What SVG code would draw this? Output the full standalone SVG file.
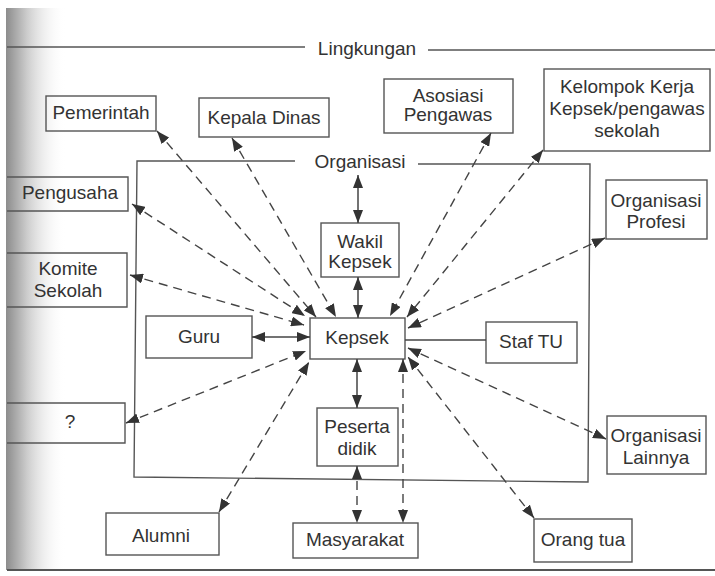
<svg xmlns="http://www.w3.org/2000/svg" width="715" height="576" viewBox="0 0 715 576">
<defs>
<linearGradient id="shade" x1="0" y1="0" x2="1" y2="0">
<stop offset="0" stop-color="#8c8c8c"/>
<stop offset="0.35" stop-color="#cccccc"/>
<stop offset="1" stop-color="#ffffff" stop-opacity="0"/>
</linearGradient>
<marker id="ah" viewBox="0 0 13 10" refX="13" refY="5" markerWidth="13" markerHeight="10" markerUnits="userSpaceOnUse" orient="auto-start-reverse">
<path d="M0,0 L13,5 L0,10 z" fill="#333"/>
</marker>
</defs>
<style>
.box{fill:none;stroke:#555;stroke-width:1.4}
.t{font-family:"Liberation Sans",Arial,sans-serif;font-size:19px;fill:#333;text-anchor:middle}
.frame{fill:none;stroke:#555;stroke-width:1.4}
.s{stroke:#444;stroke-width:1.5;fill:none}
.d{stroke:#444;stroke-width:1.4;fill:none;stroke-dasharray:9 6}
.a{marker-start:url(#ah);marker-end:url(#ah)}
</style>
<rect x="0" y="0" width="715" height="576" fill="#ffffff"/>
<rect x="6" y="8" width="60" height="562" fill="url(#shade)"/>

<g id="frames">
<line x1="7" y1="47" x2="305" y2="47" class="frame"/>
<line x1="428" y1="50" x2="715" y2="50" class="frame"/>
<line x1="7" y1="570" x2="715" y2="570" stroke="#555" stroke-width="2"/>
<text class="t" x="367" y="55">Lingkungan</text>
<path class="frame" d="M295,161 L137,161 L134,477 L588,482 L590,164 L418,164"/>
<text class="t" x="360" y="168">Organisasi</text>
</g>

<g id="pemerintah"><rect class="box" x="46" y="96" width="110" height="35"/><text class="t" x="101" y="119">Pemerintah</text></g>
<g id="kepala-dinas"><rect class="box" x="199" y="98" width="130" height="39"/><text class="t" x="264" y="124">Kepala Dinas</text></g>
<g id="asosiasi"><rect class="box" x="384" y="79" width="129" height="54"/><text class="t" x="448" y="102">Asosiasi</text><text class="t" x="448" y="121">Pengawas</text></g>
<g id="kelompok"><rect class="box" x="544" y="69" width="166" height="82"/><text class="t" x="627" y="93">Kelompok Kerja</text><text class="t" x="627" y="115">Kepsek/pengawas</text><text class="t" x="627" y="137">sekolah</text></g>
<g id="pengusaha"><path class="box" d="M7,177 H128 V211 H7"/><text class="t" x="70" y="199">Pengusaha</text></g>
<g id="komite"><path class="box" d="M7,253 H127 V307 H7"/><text class="t" x="68" y="275">Komite</text><text class="t" x="68" y="297">Sekolah</text></g>
<g id="tanya"><path class="box" d="M7,403 H125 V443 H7"/><text class="t" x="70" y="428">?</text></g>
<g id="wakil"><rect class="box" x="321" y="223" width="78" height="54"/><text class="t" x="360" y="248">Wakil</text><text class="t" x="360" y="268">Kepsek</text></g>
<g id="guru"><rect class="box" x="146" y="316" width="106" height="42"/><text class="t" x="199" y="343">Guru</text></g>
<g id="kepsek"><rect class="box" x="310" y="318" width="95" height="41"/><text class="t" x="357" y="344">Kepsek</text></g>
<g id="staf-tu"><rect class="box" x="486" y="322" width="91" height="41"/><text class="t" x="531" y="348">Staf TU</text></g>
<g id="org-profesi"><rect class="box" x="606" y="180" width="101" height="59"/><text class="t" x="656" y="207">Organisasi</text><text class="t" x="656" y="228">Profesi</text></g>
<g id="peserta"><rect class="box" x="317" y="408" width="81" height="58"/><text class="t" x="357" y="433">Peserta</text><text class="t" x="357" y="455">didik</text></g>
<g id="org-lainnya"><rect class="box" x="607" y="416" width="99" height="58"/><text class="t" x="656" y="442">Organisasi</text><text class="t" x="656" y="464">Lainnya</text></g>
<g id="alumni"><rect class="box" x="106" y="513" width="113" height="42"/><text class="t" x="161" y="542">Alumni</text></g>
<g id="masyarakat"><rect class="box" x="293" y="523" width="125" height="35"/><text class="t" x="355" y="546">Masyarakat</text></g>
<g id="orang-tua"><rect class="box" x="534" y="519" width="98" height="43"/><text class="t" x="583" y="546">Orang tua</text></g>

<g id="connectors">
<line class="s a" x1="358" y1="175" x2="358" y2="223"/>
<line class="s a" x1="358" y1="277" x2="358" y2="318"/>
<line class="s a" x1="357" y1="359" x2="357" y2="408"/>
<line class="d a" x1="357" y1="466" x2="357" y2="523"/>
<line class="d a" x1="403" y1="359" x2="403" y2="523"/>
<line class="s a" x1="252" y1="337" x2="310" y2="337"/>
<line class="s" x1="486" y1="340" x2="405" y2="340"/>
<line class="d a" x1="157" y1="131" x2="316" y2="317"/>
<line class="d a" x1="232" y1="138" x2="336" y2="317"/>
<line class="d a" x1="132" y1="204" x2="305" y2="316"/>
<line class="d a" x1="130" y1="275" x2="304" y2="325"/>
<line class="d a" x1="126" y1="423" x2="306" y2="351"/>
<line class="d a" x1="219" y1="512" x2="309" y2="362"/>
<line class="d a" x1="491" y1="133" x2="390" y2="316"/>
<line class="d a" x1="543" y1="150" x2="407" y2="317"/>
<line class="d a" x1="605" y1="238" x2="408" y2="328"/>
<line class="d a" x1="606" y1="439" x2="408" y2="348"/>
<line class="d a" x1="534" y1="518" x2="408" y2="357"/>
</g>
</svg>
